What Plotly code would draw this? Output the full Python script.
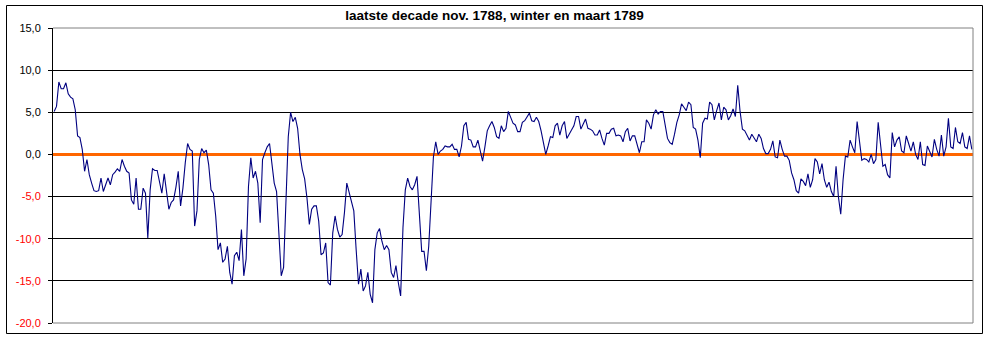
import plotly.graph_objects as go

# Temperature readings (3 per day), 21 Nov 1788 - 31 Mar 1789
part_1 = [5.1, 5.7, 8.6, 7.8, 7.8, 8.5, 7.2, 6.8, 6.6, 5.3, 2.2, 2.0, 0.6, -2.0, -0.6,
          -2.4, -3.4, -4.3, -4.4, -4.3, -2.8, -4.4, -3.6, -2.8, -3.6, -2.4, -2.1, -1.7,
          -2.0, -0.6, -1.4, -2.0, -2.2, -5.4, -5.9, -2.8, -6.5, -6.5, -4.0, -4.6, -9.9,
          -4.2, -1.7]
part_2 = [-1.9, -1.9, -3.5, -4.6, -2.3, -4.3, -6.5, -5.7, -5.4, -3.9, -2.0, -6.1, -4.0,
          -1.0, 1.3, 0.6, 0.4, -8.5, -6.7, -0.6, 0.7, 0.2, 0.5, -1.2, -4.2, -4.6, -7.3,
          -11.3, -10.5, -12.8, -12.4, -10.9, -14.0, -15.4, -12.0, -11.6, -12.6, -8.9,
          -14.4, -12.4, -3.8, -0.4, -2.8, -2.0]
part_3 = [-3.4, -8.1, -0.6, 0.2, 0.9, 1.3, -1.2, -3.4, -4.4, -8.9, -14.4, -13.4, -6.5,
          2.1, 5.0, 3.9, 4.4, 3.1, 0.0, -1.8, -2.9, -5.2, -8.3, -6.5, -6.1, -6.1, -7.9,
          -11.9, -11.7, -10.5, -15.2, -15.5, -9.3, -7.3, -8.9, -9.8, -9.5, -6.9, -3.4,
          -4.6, -5.6, -6.7, -11.3, -15.4]
part_4 = [-13.6, -16.2, -15.6, -14.0, -16.6, -17.6, -11.3, -9.3, -8.8, -10.3, -11.3,
          -10.8, -11.3, -14.0, -14.6, -13.2, -15.2, -16.8, -8.7, -4.2, -2.8, -3.8, -4.2,
          -3.6, -2.6, -7.3, -11.5, -11.5, -13.8, -10.9, -5.0, -0.3, 1.5, 0.0, 0.4, 0.6,
          1.0, 0.9, 0.9, 1.2, 0.6, 0.6, -0.3, 1.0]
part_5 = [3.4, 3.8, 1.8, 1.7, 0.9, 0.9, 1.7, 0.6, -0.8, 0.9, 2.8, 3.4, 3.9, 3.2, 2.1,
          1.9, 3.4, 2.7, 3.1, 5.1, 4.3, 3.7, 3.5, 2.7, 2.7, 3.8, 4.0, 4.5, 4.9, 4.0, 3.9,
          4.4, 3.9, 2.8, 1.5, 0.0, 1.0, 2.1, 2.0, 3.4, 3.7, 2.3, 3.4, 3.9]
part_6 = [1.9, 2.5, 2.9, 3.4, 4.5, 4.5, 3.0, 3.6, 4.2, 3.1, 3.0, 2.8, 2.3, 2.3, 2.9,
          1.9, 1.1, 2.5, 2.5, 3.0, 3.1, 2.2, 2.3, 2.2, 1.5, 2.7, 3.1, 1.6, 2.2, 2.2, 1.1,
          0.2, 1.5, 1.5, 4.1, 3.7, 3.0, 4.7, 5.3, 4.8, 5.1, 5.1, 3.5, 1.9]
part_7 = [1.4, 1.2, 2.4, 3.8, 4.7, 6.0, 5.6, 5.2, 6.2, 5.9, 3.2, 3.0, 1.7, -0.4, 3.7,
          4.3, 4.2, 6.2, 5.9, 4.1, 5.2, 6.1, 4.1, 5.6, 5.3, 4.1, 4.6, 5.4, 4.5, 8.2, 5.1,
          3.0, 2.8, 2.2, 1.7, 2.4, 2.0, 1.5, 2.4, 1.9, 0.7, 0.1, 0.1, 0.6]
part_8 = [1.6, -0.3, -0.4, 1.7, 0.6, -0.2, -0.2, -0.7, -2.2, -3.0, -4.3, -4.6, -2.9,
          -3.2, -3.7, -2.3, -3.9, -3.0, -0.5, -0.9, -2.3, -1.1, -3.0, -3.9, -3.3, -4.4,
          -5.0, -1.4, -5.0, -7.1, -3.0, -0.2, -0.3, 1.7, 0.9, 0.2, 3.9, 1.5, -0.7, -0.5,
          -0.6, -0.9, 0.0, -1.1]
part_9 = [-0.6, 3.8, 1.0, -1.4, -1.2, -2.4, -2.8, 2.6, 0.9, 1.7, 2.1, 0.4, 0.2, 2.2,
          1.3, 0.4, 1.5, 0.0, -0.6, 1.5, -1.2, -1.3, 1.0, 0.4, -0.3, 1.8, 0.6, -0.2, 2.3,
          -0.2, 0.9, 4.3, 0.9, 0.7, 3.2, 1.5, 1.3, 2.6, 0.9, 0.7, 2.2, 0.6]

temperature = part_1 + part_2 + part_3 + part_4 + part_5 + part_6 + part_7 + part_8 + part_9
observation = list(range(len(temperature)))

tick_values = [15, 10, 5, 0, -5, -10, -15, -20]
tick_labels = ["15,0", "10,0", "5,0", "0,0", "-5,0", "-10,0", "-15,0", "-20,0"]

title_text = "laatste decade nov. 1788, winter en maart 1789"

W, H = 989, 339
L, R, T, B = 53, 16, 28, 16
PW, PH = W - L - R, H - T - B

ticktext = [f'<span style="color:#FF0000">{t}</span>' if v < 0 else t
            for v, t in zip(tick_values, tick_labels)]

fig = go.Figure()
fig.add_trace(go.Scatter(
    x=observation, y=temperature, mode="lines",
    line=dict(color="#000080", width=1.1), hoverinfo="y", showlegend=False))

fig.update_layout(
    width=W, height=H,
    margin=dict(l=L, r=R, t=T, b=B, autoexpand=False),
    paper_bgcolor="white", plot_bgcolor="white",
    font=dict(family="Liberation Sans, Arial, sans-serif", size=11, color="black"),
    title=dict(text=f"<b>{title_text}</b>", x=(W / 2 - L) / PW, xref="paper",
               xanchor="center", y=1 - 15.5 / H, yref="container", yanchor="middle",
               font=dict(size=13.5, color="black", family="Liberation Sans, Arial, sans-serif")),
    xaxis=dict(range=[-0.5, len(temperature) - 0.5], showgrid=False, zeroline=False,
               showticklabels=False, ticks="", showline=False, fixedrange=True),
    yaxis=dict(range=[-20, 15], tickvals=tick_values, ticktext=ticktext,
               showgrid=True, gridcolor="black", gridwidth=1,
               zeroline=True, zerolinecolor="#FF6600", zerolinewidth=3,
               showline=True, linecolor="black", linewidth=1,
               ticks="outside", ticklen=4, tickcolor="black", tickwidth=1,
               ticklabelstandoff=5, automargin=False,
               tickfont=dict(size=11, color="black"), fixedrange=True),
)

# plot area border (grey) on top, right, bottom
grey = "#808080"
for x0, y0, x1, y1 in [(0, 1, 1, 1), (1, 0, 1, 1), (0, 0, 1, 0)]:
    fig.add_shape(type="line", xref="paper", yref="paper", x0=x0, y0=y0, x1=x1, y1=y1,
                  line=dict(color=grey, width=1), layer="above")

# outer chart border (black)
fig.add_shape(type="rect", xref="paper", yref="paper",
              x0=(6.5 - L) / PW, x1=(982.5 - L) / PW,
              y0=(H - B - 333.5) / PH, y1=(H - B - 5.5) / PH,
              line=dict(color="black", width=1), fillcolor="rgba(0,0,0,0)", layer="above")

fig.write_html("out.html", config={"displayModeBar": False},
               post_script="document.body.style.margin='0px';")
